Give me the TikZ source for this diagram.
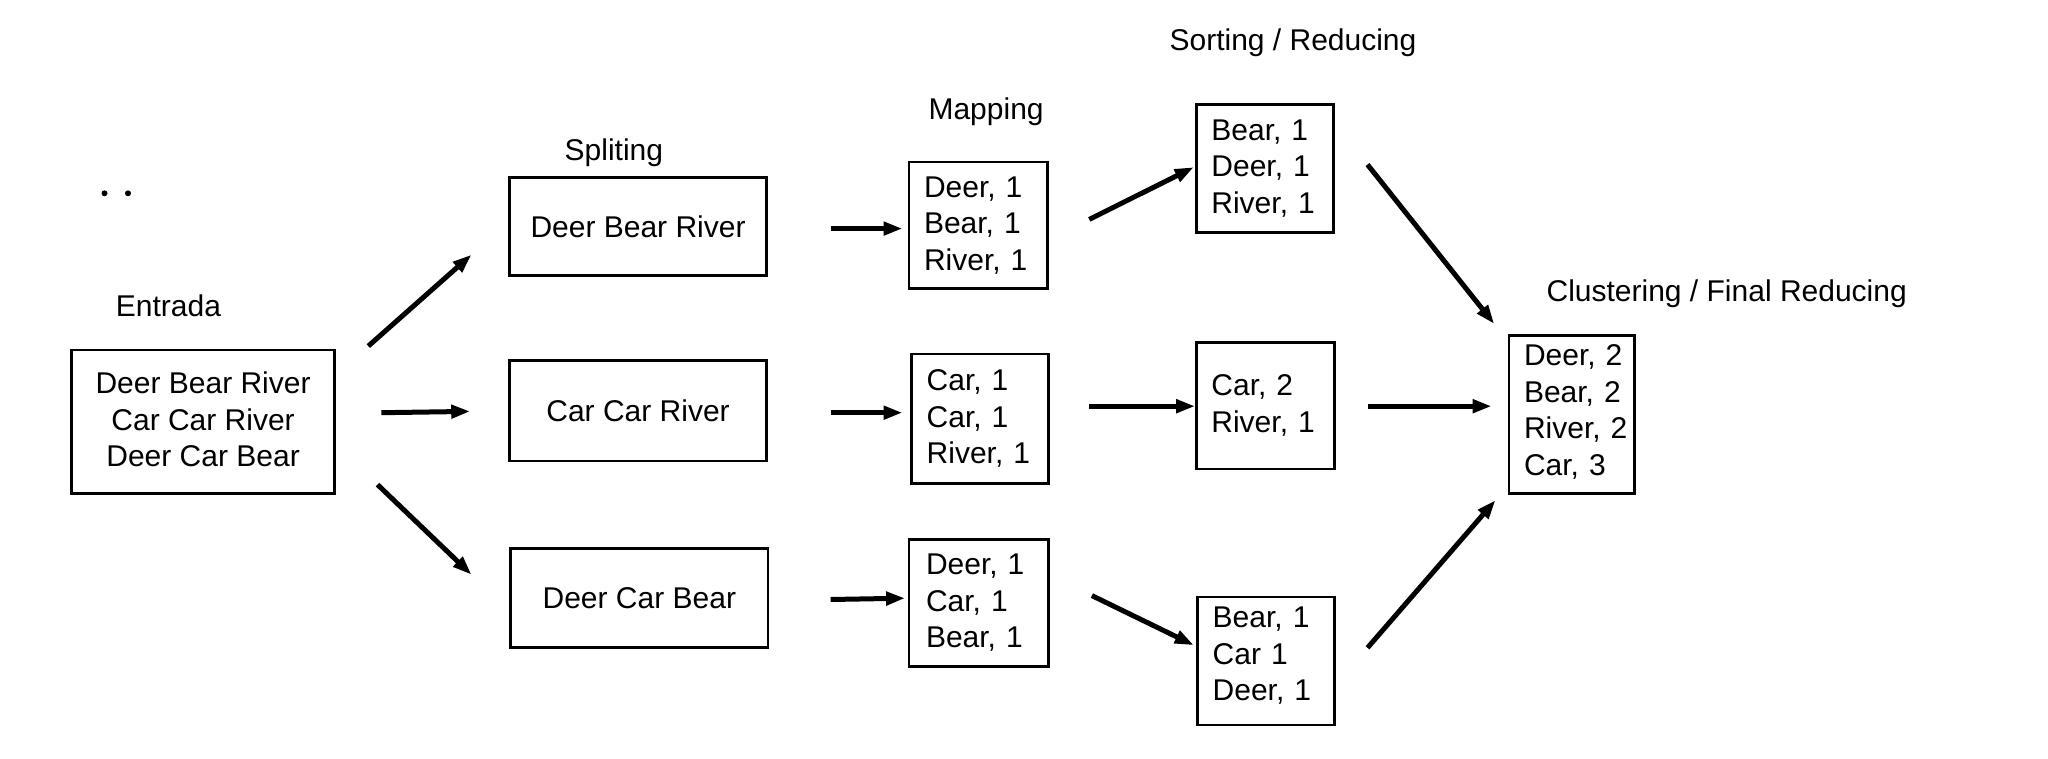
\documentclass[tikz,border=0pt]{standalone}
\usepackage{fontspec}
\setmainfont{Liberation Sans}
\usetikzlibrary{arrows.meta}
\begin{document}
\begin{tikzpicture}[x=1pt,y=-1pt,
  txt/.style={font=\fontsize{30}{36.6}\selectfont},
  lbl/.style={txt,inner sep=0pt},
  boxc/.style={txt,draw,line width=2.8pt,align=center,inner sep=0pt},
  boxl/.style={txt,draw,line width=2.8pt,align=left,inner ysep=0pt,inner xsep=15pt},
  arr/.style={line width=5pt,-{Triangle[length=19pt,width=13pt]}},
  dotm/.style={circle,fill,inner sep=0pt,minimum size=6pt}]
\useasboundingbox (0,0) rectangle (2048,759);
% dots
\node[dotm] (dt1) at (104.5,193.3) {};
\node[dotm] (dt2) at (128,193.3) {};
% labels
\node[lbl] (lin) at (168.5,305.6) {Entrada};
\node[lbl] (lsp) at (613.9,153) {Spliting};
\node[lbl] (lmp) at (986.1,112) {Mapping};
\node[lbl] (lso) at (1293,43) {Sorting / Reducing};
\node[lbl] (lcl) at (1726.7,294) {Clustering / Final Reducing};
% input
\node[boxc,minimum width=262.6pt,minimum height=143.7pt] (in) at (203.1,421.9)
  {Deer Bear River\\Car Car River\\Deer Car Bear\\[-31.4pt]\mbox{}};
% splitting
\node[boxc,minimum width=257.3pt,minimum height=98pt] (sp1) at (638.05,226.6) {Deer Bear River};
\node[boxc,minimum width=257.3pt,minimum height=100.5pt] (sp2) at (638.05,410.75) {Car Car River};
\node[boxc,minimum width=257.3pt,minimum height=99.2pt] (sp3) at (639.35,598.2) {Deer Car Bear};
% mapping
\node[boxl,text width=108.5pt,minimum height=126.6pt] (mp1) at (978.25,225.3) {Deer,~1\\Bear,~1\\River,~1};
\node[boxl,text width=107.1pt,minimum height=129.3pt] (mp2) at (980.25,418.65) {Car,~1\\Car,~1\\River,~1};
\node[boxl,text width=105.8pt,minimum height=126.7pt,inner xsep=17pt] (mp3) at (978.9,602.75) {Deer,~1\\Car,~1\\Bear,~1};
% sorting
\node[boxl,text width=107.1pt,minimum height=128pt] (so1) at (1264.95,168.5) {Bear,~1\\Deer,~1\\River,~1};
\node[boxl,text width=108.4pt,minimum height=126.7pt] (so2) at (1265.6,405.55) {Car,~2\\River,~1};
\node[boxl,text width=107.1pt,minimum height=128pt] (so3) at (1266.25,660.9) {Bear,~1\\Car~1\\Deer,~1\\[-22.2pt]\mbox{}};
% final
\node[boxl,text width=95.7pt,minimum height=158pt] (fin) at (1571.85,414.7) {Deer,~2\\Bear,~2\\River,~2\\Car,~3\\[-27.2pt]\mbox{}};
% connector end points
\coordinate (a1s) at (368.3,346.1); \coordinate (a1e) at (471.5,254.7);
\coordinate (a2s) at (381.4,412.7); \coordinate (a2e) at (470.2,411.4);
\coordinate (a3s) at (377.5,484.6); \coordinate (a3e) at (471.5,574.7);
\coordinate (b1s) at (830.7,228.6); \coordinate (b1e) at (902.5,228.6);
\coordinate (b2s) at (830.7,412.7); \coordinate (b2e) at (902.5,412.7);
\coordinate (b3s) at (830.7,599.5); \coordinate (b3e) at (905.1,598.2);
\coordinate (c1s) at (1089.3,219.4); \coordinate (c1e) at (1193.8,167.2);
\coordinate (c2s) at (1089.3,406.2); \coordinate (c2e) at (1195.1,406.2);
\coordinate (c3s) at (1091.9,595.6); \coordinate (c3e) at (1193.8,645.2);
\coordinate (d1s) at (1367.5,164.6); \coordinate (d1e) at (1494.2,323.9);
\coordinate (d2s) at (1367.5,406.2); \coordinate (d2e) at (1491.6,406.2);
\coordinate (d3s) at (1367.5,647.8); \coordinate (d3e) at (1495.5,500.2);
\foreach \p in {a1,a2,a3,b1,b2,b3,c1,c2,c3,d1,d2,d3}
  \draw[arr] (\p s) -- (\p e);
\end{tikzpicture}
\end{document}
